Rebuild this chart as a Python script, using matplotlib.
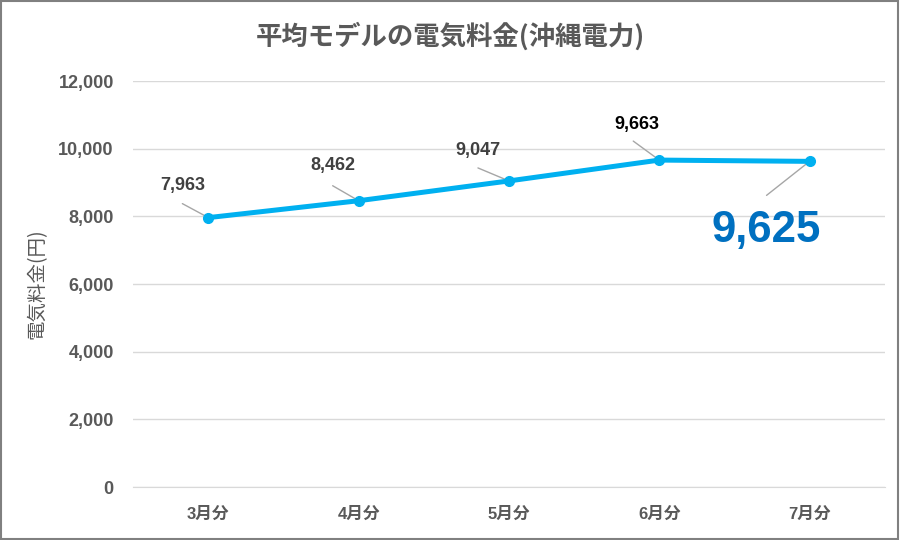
import matplotlib.pyplot as plt
from matplotlib.patches import Rectangle

plt.rcParams['font.family'] = ['Liberation Sans', 'Noto Sans CJK JP', 'DejaVu Sans']

months = ['3月分', '4月分', '5月分', '6月分', '7月分']
fees = [7963, 8462, 9047, 9663, 9625]
yticks = [0, 2000, 4000, 6000, 8000, 10000, 12000]

# label text offsets and leader start offsets in pixels from the point
label_offsets = [(-26, 32), (-26, 35), (-31, 30), (-22, 36), (-43, -69)]
leader_offsets = [(-26, 14), (-26, 15), (-31, 13), (-26, 19), (-43, -34)]
label_colors = ['#404040', '#404040', '#404040', '#000000', '#0070C0']
label_sizes = [13, 13, 13, 13, 31.5]

fig = plt.figure(figsize=(9, 5.4), dpi=100)
ax = fig.add_axes([0.148, 0.098, 0.835, 0.752])

x = list(range(len(months)))
ax.plot(x, fees, color='#00B0F0', lw=3.6, marker='o', ms=7,
        solid_capstyle='round', zorder=3)

ax.set_xlim(-0.5, len(months) - 0.5)
ax.set_ylim(0, 12000)
ax.set_yticks(yticks)
ax.set_yticklabels([f'{v:,}' for v in yticks])
ax.set_xticks(x)
ax.set_xticklabels(months)
ax.yaxis.grid(True, color='#D9D9D9', lw=1)
ax.set_axisbelow(True)
for s in ['top', 'right', 'left']:
    ax.spines[s].set_visible(False)
ax.spines['bottom'].set_color('#D9D9D9')
ax.tick_params(axis='y', length=0, colors='#595959', labelsize=13, pad=14)
ax.tick_params(axis='x', length=0, colors='#595959', labelsize=12, pad=14)
for t in ax.get_xticklabels() + ax.get_yticklabels():
    t.set_fontweight('bold')

ax.set_ylabel('電気料金(円)', color='#595959', fontsize=14, labelpad=8,
              family=['Noto Sans CJK JP', 'DejaVu Sans'])

px = 0.72  # pixels to points at 100 dpi
for i, v in enumerate(fees):
    dx, dy = label_offsets[i]
    lx, ly = leader_offsets[i]
    ax.annotate('', xy=(i, v), xytext=(lx * px, ly * px),
                textcoords='offset points',
                arrowprops=dict(arrowstyle='-', color='#A6A6A6', lw=1,
                                shrinkA=0, shrinkB=0), zorder=2)
    ax.annotate(f'{v:,}', xy=(i, v), xytext=(dx * px, dy * px),
                textcoords='offset points', ha='center', va='center',
                color=label_colors[i], fontsize=label_sizes[i], fontweight='bold')

fig.text(0.5, 0.932, '平均モデルの電気料金(沖縄電力)', ha='center', va='center',
         fontsize=19, fontweight='bold', color='#595959',
         family=['Noto Sans CJK JP', 'DejaVu Sans'])

fig.patches.append(Rectangle((0.001, 0.001), 0.997, 0.997, transform=fig.transFigure,
                             fill=False, edgecolor='#808080', lw=1.5))

fig.savefig('out.png', dpi=100)
